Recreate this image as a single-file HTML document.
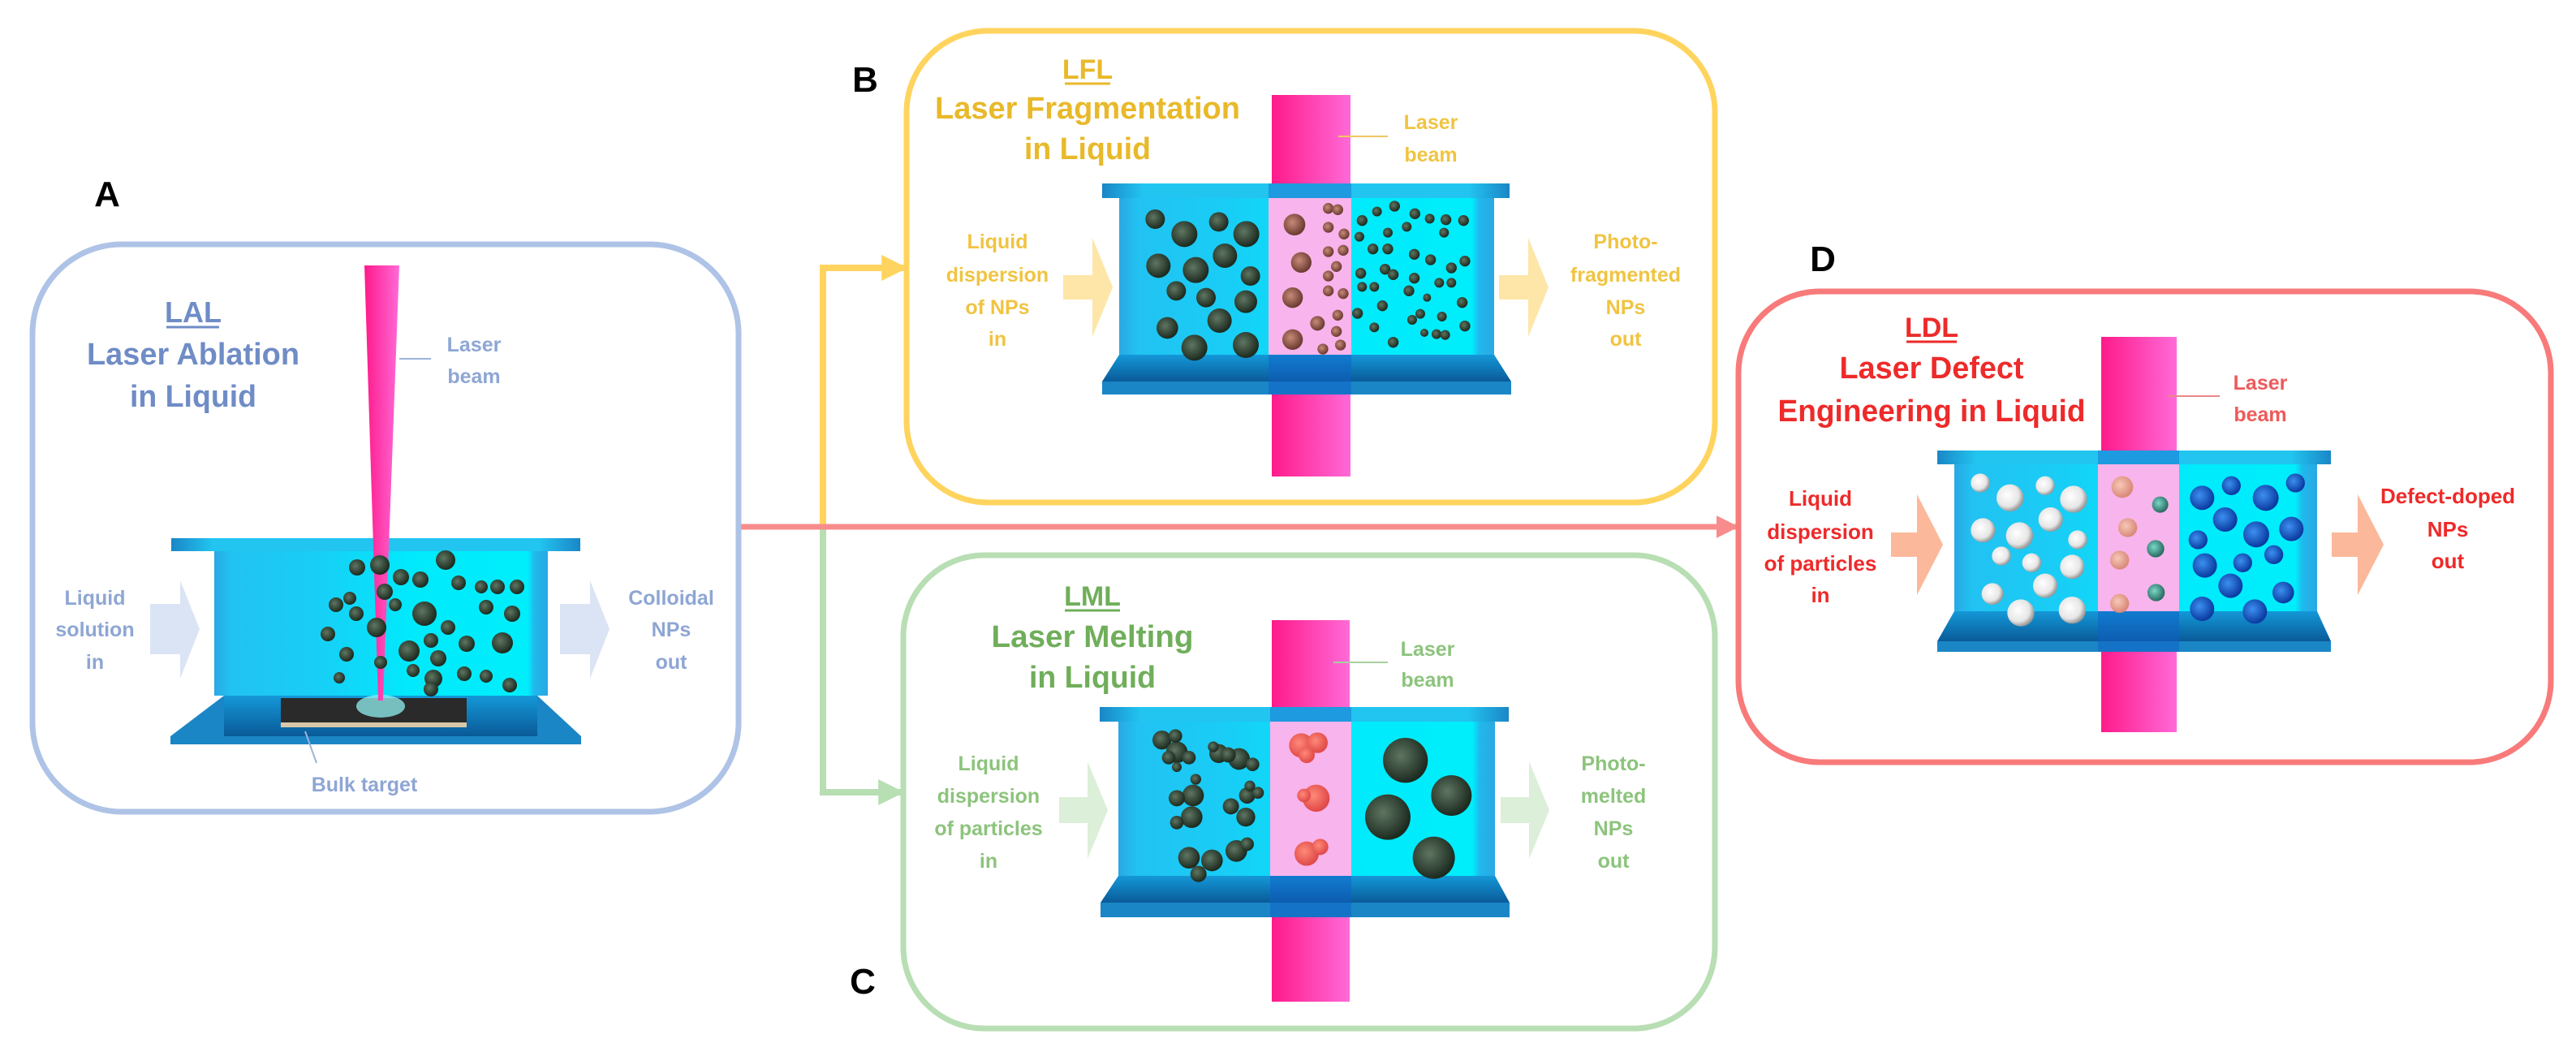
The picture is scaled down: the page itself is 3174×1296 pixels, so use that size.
<!DOCTYPE html>
<html><head><meta charset="utf-8"><style>
html,body{margin:0;padding:0;background:#fff;}
svg{display:block;}
text{font-family:"Liberation Sans",sans-serif;}
</style></head><body>
<svg width="3174" height="1296" viewBox="0 0 3174 1296" xmlns="http://www.w3.org/2000/svg">
<defs>
<linearGradient id="body" x1="0" x2="1" y1="0" y2="0">
<stop offset="0" stop-color="#2aa8e4"/><stop offset="0.05" stop-color="#22c2f2"/><stop offset="0.3" stop-color="#18cef6"/><stop offset="0.6" stop-color="#00eafc"/><stop offset="0.94" stop-color="#00eefc"/><stop offset="0.96" stop-color="#20b8ec"/><stop offset="1" stop-color="#2aa8e4"/>
</linearGradient>
<linearGradient id="plate" x1="0" x2="1" y1="0" y2="0">
<stop offset="0" stop-color="#1a86c6"/><stop offset="0.1" stop-color="#22c4f0"/><stop offset="0.9" stop-color="#22c4f0"/><stop offset="1" stop-color="#1a86c6"/>
</linearGradient>
<linearGradient id="dark" x1="0" x2="0" y1="0" y2="1">
<stop offset="0" stop-color="#1498d8"/><stop offset="1" stop-color="#0a5a98"/>
</linearGradient>
<linearGradient id="beam" x1="0" x2="1" y1="0" y2="0">
<stop offset="0" stop-color="#ff1a8a"/><stop offset="1" stop-color="#ff6ad8"/>
</linearGradient>
<radialGradient id="pd" cx="0.4" cy="0.4" r="0.6"><stop offset="0" stop-color="#5f7662"/><stop offset="1" stop-color="#1c2a1f"/></radialGradient>
<radialGradient id="pw" cx="0.4" cy="0.4" r="0.6"><stop offset="0" stop-color="#ffffff"/><stop offset="0.7" stop-color="#e6e6e6"/><stop offset="1" stop-color="#9a9a9a"/></radialGradient>
<radialGradient id="pb" cx="0.4" cy="0.4" r="0.6"><stop offset="0" stop-color="#3c90f0"/><stop offset="1" stop-color="#0a3aa0"/></radialGradient>
<radialGradient id="pp" cx="0.4" cy="0.4" r="0.6"><stop offset="0" stop-color="#f8c8b8"/><stop offset="1" stop-color="#d88878"/></radialGradient>
<radialGradient id="pt" cx="0.4" cy="0.4" r="0.6"><stop offset="0" stop-color="#7ad8c8"/><stop offset="1" stop-color="#2a6a62"/></radialGradient>
<radialGradient id="pr" cx="0.4" cy="0.4" r="0.6"><stop offset="0" stop-color="#ff8a78"/><stop offset="1" stop-color="#e04848"/></radialGradient>
<radialGradient id="pbr" cx="0.4" cy="0.4" r="0.6"><stop offset="0" stop-color="#c88a78"/><stop offset="1" stop-color="#6a3a30"/></radialGradient>
<marker id="ar" viewBox="0 0 10 10" refX="9" refY="5" markerWidth="4" markerHeight="4" orient="auto" markerUnits="strokeWidth"><path d="M0,0 L10,5 L0,10 z" fill="#f88c8c"/></marker>
<marker id="ay" viewBox="0 0 10 10" refX="9" refY="5" markerWidth="4" markerHeight="4" orient="auto" markerUnits="strokeWidth"><path d="M0,0 L10,5 L0,10 z" fill="#ffd45e"/></marker>
<marker id="ag" viewBox="0 0 10 10" refX="9" refY="5" markerWidth="4" markerHeight="4" orient="auto" markerUnits="strokeWidth"><path d="M0,0 L10,5 L0,10 z" fill="#b8deb3"/></marker>
</defs>

<!-- connectors -->
<polyline points="1014,650 1014,330 1115,330" fill="none" stroke="#ffd45e" stroke-width="8" marker-end="url(#ay)"/>
<polyline points="1014,650 1014,976 1111,976" fill="none" stroke="#b8deb3" stroke-width="8" marker-end="url(#ag)"/>
<line x1="910" y1="649" x2="2140" y2="649" stroke="#f88c8c" stroke-width="7" marker-end="url(#ar)"/>

<!-- boxes -->
<rect x="40" y="301" width="870" height="699" rx="110" fill="#fff" stroke="#aec3e6" stroke-width="7"/>
<rect x="1117" y="38" width="996" height="581" rx="100" fill="#fff" stroke="#ffd45e" stroke-width="7"/>
<rect x="1113" y="684" width="1000" height="583" rx="100" fill="#fff" stroke="#b8deb3" stroke-width="7"/>
<rect x="2142" y="359" width="1001" height="580" rx="100" fill="#fff" stroke="#f87a7a" stroke-width="7"/>

<!-- panel letters -->
<g font-weight="bold" font-size="44" fill="#000" text-anchor="middle">
<text x="132" y="254">A</text><text x="1066" y="113">B</text><text x="1063" y="1224">C</text><text x="2246" y="334">D</text>
</g>

<!-- ===== A ===== -->
<rect x="211" y="663" width="504" height="16" fill="url(#plate)"/>
<rect x="264" y="679" width="411" height="178" fill="url(#body)"/>
<polygon points="276,857 662,857 716,907 716,917 210,917 210,907" fill="#1a86c6"/>
<rect x="276" y="857" width="386" height="50" fill="url(#dark)"/>
<rect x="346" y="860" width="229" height="30" fill="#2a2a2a"/>
<rect x="346" y="890" width="229" height="6" fill="#d8c8a8"/>
<ellipse cx="469" cy="870" rx="30" ry="14" fill="#9ff" opacity="0.7"/>
<polygon points="449,327 492,327 472,863 466,863" fill="url(#beam)"/>
<g fill="url(#pd)">
<circle cx="440" cy="699" r="10"/><circle cx="468" cy="696" r="12"/><circle cx="549" cy="690" r="12"/><circle cx="494" cy="711" r="10"/><circle cx="518" cy="714" r="10"/><circle cx="565" cy="718" r="9"/><circle cx="593" cy="723" r="8"/><circle cx="613" cy="723" r="9"/><circle cx="637" cy="723" r="9"/><circle cx="474" cy="729" r="10"/><circle cx="431" cy="737" r="8"/><circle cx="414" cy="745" r="9"/><circle cx="439" cy="756" r="9"/><circle cx="487" cy="745" r="8"/><circle cx="523" cy="756" r="15"/><circle cx="599" cy="748" r="9"/><circle cx="631" cy="756" r="10"/><circle cx="464" cy="773" r="12"/><circle cx="552" cy="773" r="9"/><circle cx="404" cy="781" r="9"/><circle cx="531" cy="789" r="9"/><circle cx="575" cy="793" r="10"/><circle cx="619" cy="792" r="13"/><circle cx="504" cy="802" r="13"/><circle cx="427" cy="806" r="9"/><circle cx="540" cy="811" r="10"/><circle cx="469" cy="816" r="8"/><circle cx="509" cy="826" r="8"/><circle cx="572" cy="830" r="9"/><circle cx="599" cy="833" r="8"/><circle cx="534" cy="836" r="11"/><circle cx="418" cy="835" r="7"/><circle cx="628" cy="844" r="9"/><circle cx="531" cy="849" r="9"/>
</g>
<polygon points="185,744 222,744 222,715 246,775 222,836 222,806 185,806" fill="#dbe4f4"/>
<polygon points="690,744 727,744 727,715 751,775 727,836 727,806 690,806" fill="#dbe4f4"/>
<line x1="492" y1="442" x2="531" y2="442" stroke="#9fb3d8" stroke-width="2"/>
<line x1="376" y1="901" x2="390" y2="940" stroke="#9fb3d8" stroke-width="2"/>
<g fill="#6f8cc6" text-anchor="middle" font-weight="bold">
<text x="238" y="397" font-size="36">LAL</text>
<line x1="205" y1="403" x2="270" y2="403" stroke="#6f8cc6" stroke-width="3"/>
<text x="238" y="449" font-size="38" textLength="262" lengthAdjust="spacingAndGlyphs">Laser Ablation</text>
<text x="238" y="501" font-size="38" textLength="156" lengthAdjust="spacingAndGlyphs">in Liquid</text>
</g>
<g fill="#8ea6d4" text-anchor="middle" font-size="25" font-weight="bold">
<text x="584" y="433">Laser</text><text x="584" y="472">beam</text>
<text x="117" y="745">Liquid</text><text x="117" y="784">solution</text><text x="117" y="824">in</text>
<text x="827" y="745">Colloidal</text><text x="827" y="784">NPs</text><text x="827" y="824">out</text>
<text x="449" y="975">Bulk target</text>
</g>

<!-- ===== B ===== -->
<rect x="1567" y="117" width="97" height="470" fill="url(#beam)"/>
<rect x="1358" y="226" width="502" height="18" fill="url(#plate)"/>
<rect x="1379" y="244" width="462" height="193" fill="url(#body)"/>
<polygon points="1379,437 1841,437 1862,470 1358,470" fill="url(#dark)"/>
<rect x="1358" y="470" width="504" height="16" fill="#1a86c6"/>
<rect x="1563" y="244" width="102" height="193" fill="#f8b4ec"/>
<rect x="1563" y="226" width="102" height="18" fill="#1a6fd0" opacity="0.5"/>
<rect x="1563" y="437" width="102" height="49" fill="#1060c8" opacity="0.5"/>
<g transform="translate(1370,240) scale(0.3333)">
<g fill="url(#pd)">
<circle cx="160" cy="90" r="36"/><circle cx="268" cy="145" r="48"/><circle cx="395" cy="100" r="36"/><circle cx="497" cy="145" r="48"/><circle cx="172" cy="262" r="45"/><circle cx="310" cy="278" r="48"/><circle cx="418" cy="225" r="45"/><circle cx="512" cy="300" r="36"/><circle cx="238" cy="355" r="36"/><circle cx="348" cy="380" r="36"/><circle cx="495" cy="395" r="42"/><circle cx="398" cy="465" r="45"/><circle cx="205" cy="492" r="40"/><circle cx="305" cy="565" r="48"/><circle cx="495" cy="555" r="48"/>
</g>
<g fill="url(#pbr)">
<circle cx="675" cy="110" r="40"/><circle cx="700" cy="250" r="38"/><circle cx="668" cy="380" r="38"/><circle cx="668" cy="535" r="38"/>
<circle cx="800" cy="50" r="20"/><circle cx="835" cy="55" r="20"/><circle cx="800" cy="120" r="20"/><circle cx="858" cy="145" r="20"/><circle cx="800" cy="210" r="20"/><circle cx="855" cy="205" r="20"/><circle cx="830" cy="265" r="20"/><circle cx="800" cy="300" r="20"/><circle cx="800" cy="355" r="20"/><circle cx="855" cy="365" r="20"/><circle cx="835" cy="445" r="20"/><circle cx="760" cy="475" r="27"/><circle cx="830" cy="505" r="20"/><circle cx="845" cy="555" r="20"/><circle cx="780" cy="570" r="20"/>
</g>
<g fill="url(#pd)">
<circle cx="925" cy="95" r="20"/><circle cx="980" cy="62" r="18"/><circle cx="1045" cy="42" r="20"/><circle cx="1120" cy="70" r="20"/><circle cx="1175" cy="88" r="18"/><circle cx="1235" cy="92" r="20"/><circle cx="1300" cy="95" r="20"/><circle cx="915" cy="155" r="18"/><circle cx="1020" cy="140" r="18"/><circle cx="1090" cy="118" r="18"/><circle cx="1228" cy="140" r="18"/><circle cx="965" cy="200" r="20"/><circle cx="1020" cy="200" r="20"/><circle cx="1118" cy="220" r="20"/><circle cx="1178" cy="240" r="20"/><circle cx="1305" cy="245" r="20"/><circle cx="1255" cy="270" r="20"/><circle cx="920" cy="290" r="20"/><circle cx="1010" cy="275" r="20"/><circle cx="1040" cy="295" r="20"/><circle cx="925" cy="340" r="18"/><circle cx="970" cy="340" r="18"/><circle cx="1118" cy="308" r="20"/><circle cx="1210" cy="325" r="18"/><circle cx="1255" cy="325" r="18"/><circle cx="1098" cy="355" r="20"/><circle cx="1165" cy="380" r="15"/><circle cx="1000" cy="410" r="20"/><circle cx="908" cy="438" r="20"/><circle cx="1295" cy="398" r="20"/><circle cx="1110" cy="462" r="18"/><circle cx="1140" cy="440" r="18"/><circle cx="1220" cy="450" r="18"/><circle cx="970" cy="490" r="18"/><circle cx="1155" cy="510" r="15"/><circle cx="1200" cy="515" r="18"/><circle cx="1232" cy="518" r="18"/><circle cx="1305" cy="485" r="20"/><circle cx="1040" cy="545" r="20"/>
</g>
</g>
<polygon points="1310,339 1346,339 1346,293 1371,354 1346,415 1346,369 1310,369" fill="#fde6a8"/>
<polygon points="1847,339 1883,339 1883,293 1908,354 1883,415 1883,369 1847,369" fill="#fde6a8"/>
<line x1="1649" y1="168" x2="1710" y2="168" stroke="#f0c860" stroke-width="2"/>
<g fill="#e8b92a" text-anchor="middle" font-weight="bold">
<text x="1340" y="97" font-size="34">LFL</text>
<line x1="1312" y1="103" x2="1368" y2="103" stroke="#e8b92a" stroke-width="3"/>
<text x="1340" y="146" font-size="38" textLength="376" lengthAdjust="spacingAndGlyphs">Laser Fragmentation</text>
<text x="1340" y="196" font-size="38" textLength="156" lengthAdjust="spacingAndGlyphs">in Liquid</text>
</g>
<g fill="#f0c442" text-anchor="middle" font-size="25" font-weight="bold">
<text x="1763" y="159">Laser</text><text x="1763" y="199">beam</text>
<text x="1229" y="306">Liquid</text><text x="1229" y="347">dispersion</text><text x="1229" y="387">of NPs</text><text x="1229" y="426">in</text>
<text x="2003" y="306">Photo-</text><text x="2003" y="347">fragmented</text><text x="2003" y="387">NPs</text><text x="2003" y="426">out</text>
</g>

<!-- ===== C ===== -->
<rect x="1567" y="764" width="96" height="470" fill="url(#beam)"/>
<rect x="1355" y="871" width="504" height="18" fill="url(#plate)"/>
<rect x="1378" y="889" width="464" height="190" fill="url(#body)"/>
<polygon points="1378,1079 1842,1079 1860,1112 1356,1112" fill="url(#dark)"/>
<rect x="1356" y="1112" width="504" height="18" fill="#1a86c6"/>
<rect x="1565" y="889" width="100" height="190" fill="#f8b4ec"/>
<rect x="1565" y="871" width="100" height="18" fill="#1a6fd0" opacity="0.5"/>
<rect x="1565" y="1079" width="100" height="51" fill="#1060c8" opacity="0.5"/>
<g transform="translate(1370,880) scale(0.3333)">
<g fill="url(#pd)">
<circle cx="185" cy="95" r="35"/><circle cx="240" cy="140" r="40"/><circle cx="285" cy="160" r="25"/><circle cx="210" cy="160" r="25"/><circle cx="235" cy="80" r="25"/><circle cx="240" cy="195" r="18"/>
<circle cx="395" cy="145" r="35"/><circle cx="470" cy="165" r="40"/><circle cx="520" cy="185" r="25"/><circle cx="375" cy="120" r="20"/><circle cx="430" cy="150" r="28"/>
<circle cx="300" cy="300" r="40"/><circle cx="240" cy="310" r="30"/><circle cx="295" cy="380" r="40"/><circle cx="240" cy="400" r="25"/><circle cx="310" cy="240" r="20"/>
<circle cx="440" cy="340" r="30"/><circle cx="500" cy="300" r="30"/><circle cx="495" cy="380" r="35"/><circle cx="540" cy="290" r="22"/><circle cx="510" cy="265" r="20"/>
<circle cx="285" cy="530" r="40"/><circle cx="370" cy="540" r="40"/><circle cx="460" cy="505" r="40"/><circle cx="320" cy="590" r="30"/><circle cx="500" cy="480" r="25"/>
<circle cx="1085" cy="170" r="83"/><circle cx="1255" cy="300" r="75"/><circle cx="1020" cy="380" r="84"/><circle cx="1190" cy="530" r="78"/>
</g>
<g fill="url(#pr)">
<circle cx="700" cy="115" r="45"/><circle cx="760" cy="105" r="38"/><circle cx="720" cy="150" r="30"/>
<circle cx="755" cy="310" r="50"/><circle cx="710" cy="300" r="25"/>
<circle cx="720" cy="515" r="45"/><circle cx="770" cy="490" r="30"/>
</g>
</g>
<polygon points="1305,982 1340,982 1340,938 1365,998 1340,1058 1340,1014 1305,1014" fill="#dcefd8"/>
<polygon points="1849,982 1884,982 1884,938 1909,998 1884,1058 1884,1014 1849,1014" fill="#dcefd8"/>
<line x1="1643" y1="816" x2="1710" y2="816" stroke="#a8cfa0" stroke-width="2"/>
<g fill="#6fae5a" text-anchor="middle" font-weight="bold">
<text x="1346" y="746" font-size="34">LML</text>
<line x1="1312" y1="752" x2="1380" y2="752" stroke="#6fae5a" stroke-width="3"/>
<text x="1346" y="797" font-size="38" textLength="249" lengthAdjust="spacingAndGlyphs">Laser Melting</text>
<text x="1346" y="847" font-size="38" textLength="156" lengthAdjust="spacingAndGlyphs">in Liquid</text>
</g>
<g fill="#8cc47c" text-anchor="middle" font-size="25" font-weight="bold">
<text x="1759" y="808">Laser</text><text x="1759" y="846">beam</text>
<text x="1218" y="949">Liquid</text><text x="1218" y="989">dispersion</text><text x="1218" y="1029">of particles</text><text x="1218" y="1069">in</text>
<text x="1988" y="949">Photo-</text><text x="1988" y="989">melted</text><text x="1988" y="1029">NPs</text><text x="1988" y="1069">out</text>
</g>

<!-- ===== D ===== -->
<rect x="2589" y="415" width="93" height="487" fill="url(#beam)"/>
<rect x="2387" y="555" width="485" height="17" fill="url(#plate)"/>
<rect x="2408" y="572" width="447" height="181" fill="url(#body)"/>
<polygon points="2408,753 2855,753 2872,790 2387,790" fill="url(#dark)"/>
<rect x="2387" y="790" width="485" height="13" fill="#1a86c6"/>
<rect x="2585" y="572" width="100" height="181" fill="#f8b4ec"/>
<rect x="2585" y="555" width="100" height="17" fill="#1a6fd0" opacity="0.5"/>
<rect x="2585" y="753" width="100" height="50" fill="#1060c8" opacity="0.5"/>
<g transform="translate(2380,550) scale(0.3333)">
<g fill="url(#pw)">
<circle cx="180" cy="135" r="35"/><circle cx="290" cy="190" r="50"/><circle cx="420" cy="145" r="35"/><circle cx="525" cy="195" r="50"/><circle cx="190" cy="310" r="45"/><circle cx="325" cy="330" r="50"/><circle cx="440" cy="270" r="45"/><circle cx="540" cy="345" r="35"/><circle cx="258" cy="405" r="35"/><circle cx="370" cy="430" r="35"/><circle cx="520" cy="445" r="45"/><circle cx="225" cy="545" r="40"/><circle cx="420" cy="515" r="45"/><circle cx="330" cy="615" r="50"/><circle cx="520" cy="605" r="50"/>
</g>
<g fill="url(#pp)"><circle cx="705" cy="150" r="40"/><circle cx="725" cy="300" r="35"/><circle cx="695" cy="420" r="35"/><circle cx="695" cy="580" r="35"/></g>
<g fill="url(#pt)"><circle cx="845" cy="215" r="30"/><circle cx="828" cy="378" r="32"/><circle cx="830" cy="540" r="32"/></g>
<g fill="url(#pb)">
<circle cx="1000" cy="190" r="45"/><circle cx="1108" cy="145" r="35"/><circle cx="1235" cy="190" r="48"/><circle cx="1345" cy="135" r="35"/><circle cx="1085" cy="270" r="45"/><circle cx="1200" cy="325" r="48"/><circle cx="1330" cy="305" r="45"/><circle cx="985" cy="345" r="35"/><circle cx="1010" cy="440" r="45"/><circle cx="1150" cy="430" r="35"/><circle cx="1265" cy="400" r="35"/><circle cx="1105" cy="515" r="45"/><circle cx="1300" cy="540" r="40"/><circle cx="1000" cy="600" r="45"/><circle cx="1195" cy="610" r="45"/>
</g>
</g>
<polygon points="2330,656 2362,656 2362,609 2394,671 2362,733 2362,686 2330,686" fill="#fbb89a"/>
<polygon points="2873,656 2905,656 2905,609 2937,671 2905,733 2905,686 2873,686" fill="#fbb89a"/>
<line x1="2671" y1="488" x2="2735" y2="488" stroke="#e88888" stroke-width="2"/>
<g fill="#ee2a2a" text-anchor="middle" font-weight="bold">
<text x="2380" y="415" font-size="34">LDL</text>
<line x1="2349" y1="421" x2="2411" y2="421" stroke="#ee2a2a" stroke-width="3"/>
<text x="2380" y="466" font-size="38" textLength="227" lengthAdjust="spacingAndGlyphs">Laser Defect</text>
<text x="2380" y="519" font-size="38" textLength="379" lengthAdjust="spacingAndGlyphs">Engineering in Liquid</text>
<g font-size="26">
<text x="2243" y="623">Liquid</text><text x="2243" y="664">dispersion</text><text x="2243" y="703">of particles</text><text x="2243" y="742">in</text>
<text x="3016" y="620">Defect-doped</text><text x="3016" y="661">NPs</text><text x="3016" y="700">out</text>
</g>
</g>
<g fill="#ee5a5a" text-anchor="middle" font-size="25" font-weight="bold">
<text x="2785" y="480">Laser</text><text x="2785" y="519">beam</text>
</g>
</svg>
</body></html>
